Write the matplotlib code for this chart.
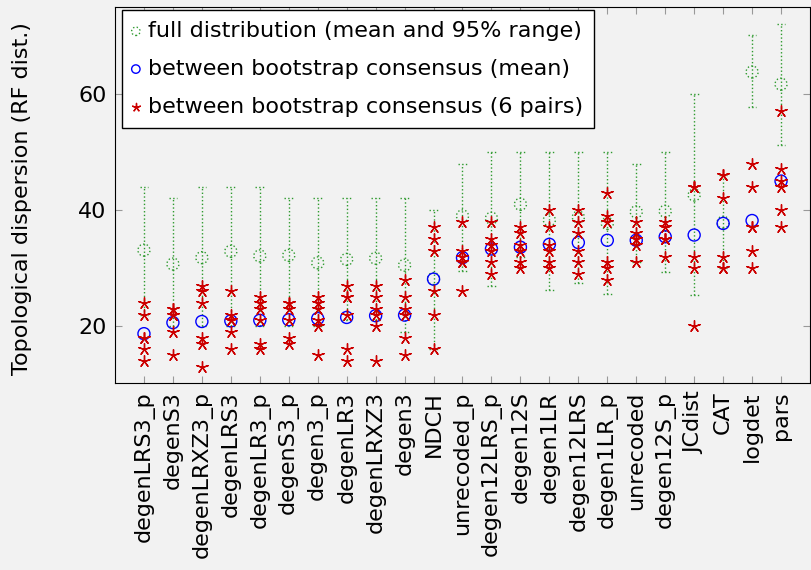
import numpy as np
import matplotlib
matplotlib.use('Agg')
import matplotlib.pyplot as plt

methods = ['degenLRS3_p', 'degenS3', 'degenLRXZ3_p', 'degenLRS3', 'degenLR3_p',
           'degenS3_p', 'degen3_p', 'degenLR3', 'degenLRXZ3', 'degen3', 'NDCH',
           'unrecoded_p', 'degen12LRS_p', 'degen12S', 'degen1LR', 'degen12LRS',
           'degen1LR_p', 'unrecoded', 'degen12S_p', 'JCdist', 'CAT', 'logdet', 'pars']

# full distribution: mean and 95% range
full_mean = [33.1, 30.7, 31.8, 32.9, 32.1, 32.2, 30.9, 31.5, 31.7, 30.5, 28.2, 39.0,
             38.6, 41.0, 38.3, 38.8, 37.7, 39.7, 39.8, 42.6, 37.9, 63.8, 61.7]
full_lo = [22, 20, 20, 20, 20, 20, 20, 21, 21, 19, 16, 29.5,
           27, 32, 26.3, 27.4, 25.5, 31, 29.4, 25.3, 30, 57.7, 51.2]
full_hi = [44, 42, 44, 44, 44, 42, 42, 42, 42, 42, 40, 48,
           50, 50, 50, 50, 50, 48, 50, 60, 46, 70.2, 72.1]

# between bootstrap consensus
boot_mean = [18.7, 20.6, 20.8, 20.9, 21.0, 21.1, 21.3, 21.5, 21.8, 21.9, 28.1, 31.8,
             33.3, 33.6, 34.1, 34.4, 34.8, 34.8, 35.4, 35.7, 37.7, 38.2, 45.0]
pairs = [[24, 22, 18, 18, 16, 14],
         [23, 23, 22, 22, 19, 15],
         [27, 26, 24, 18, 17, 13],
         [26, 22, 21, 21, 19, 16],
         [25, 24, 23, 21, 17, 16],
         [24, 24, 23, 21, 18, 17],
         [25, 24, 23, 21, 20, 15],
         [27, 25, 25, 22, 16, 14],
         [27, 25, 23, 22, 20, 14],
         [28, 25, 23, 22, 18, 15],
         [37, 35, 33, 26, 22, 16],
         [38, 33, 32, 31, 31, 26],
         [38, 35, 34, 33, 31, 29],
         [37, 36, 34, 33, 31, 30],
         [40, 37, 34, 33, 31, 30],
         [40, 38, 36, 33, 31, 29],
         [43, 39, 38, 31, 30, 28],
         [38, 36, 35, 35, 34, 31],
         [38, 37, 35, 35, 35, 32],
         [44, 44, 44, 32, 30, 20],
         [46, 46, 42, 32, 30, 30],
         [48, 44, 37, 37, 33, 30],
         [57, 47, 45, 44, 40, 37]]

green = '#2e9a2e'
blue = '#0000ff'
red = '#cc0000'
bg = '#f2f2f2'
fs = 16

plt.rcParams['font.family'] = ['DejaVu Sans']

fig = plt.figure(figsize=(8.11, 5.70), dpi=100, facecolor=bg)
ax = fig.add_axes([115 / 811, 1 - 383 / 570, 695 / 811, 376 / 570])
ax.set_facecolor(bg)

x = np.arange(1, len(methods) + 1)

ax.vlines(x, full_lo, full_hi, colors=green, linestyles=':', lw=1, zorder=2)
ax.hlines(full_lo, x - 0.15, x + 0.15, colors=green, linestyles=':', lw=1, zorder=2)
ax.hlines(full_hi, x - 0.15, x + 0.15, colors=green, linestyles=':', lw=1, zorder=2)
ax.scatter(x, full_mean, s=75, facecolors='none', edgecolors=green, linestyles=':',
           lw=1, zorder=3, label='full distribution (mean and 95% range)')
ax.scatter(x, boot_mean, s=75, facecolors='none', edgecolors=blue, lw=1, zorder=4,
           label='between bootstrap consensus (mean)')
px = np.repeat(x, 6)
py = np.ravel(pairs)
ax.scatter(px, py, marker=(5, 2, 0), s=70, c=red, lw=1, zorder=5,
           label='between bootstrap consensus (6 pairs)')

ax.set_xlim(0, 24)
ax.set_ylim(10.2, 75)
ax.set_xticks(x)
ax.set_xticklabels(methods, rotation=90)
ax.set_yticks([20, 40, 60])
ax.tick_params(direction='in', top=True, right=True, length=5, color='#999999',
               labelsize=fs, pad=6)
ax.set_ylabel('Topological dispersion (RF dist.)', fontsize=fs)
ax.yaxis.set_label_coords(-0.12, 0.49)

leg = ax.legend(loc='upper left', bbox_to_anchor=(0.01, 0.992), borderaxespad=0,
                fancybox=False, edgecolor='black', framealpha=1, fontsize=fs,
                handlelength=0.25, handletextpad=0.4, scatterpoints=1,
                markerscale=0.7, borderpad=0.5, labelspacing=0.8)
leg.get_frame().set_linewidth(1)

fig.savefig('out.png', dpi=100, facecolor=bg)
